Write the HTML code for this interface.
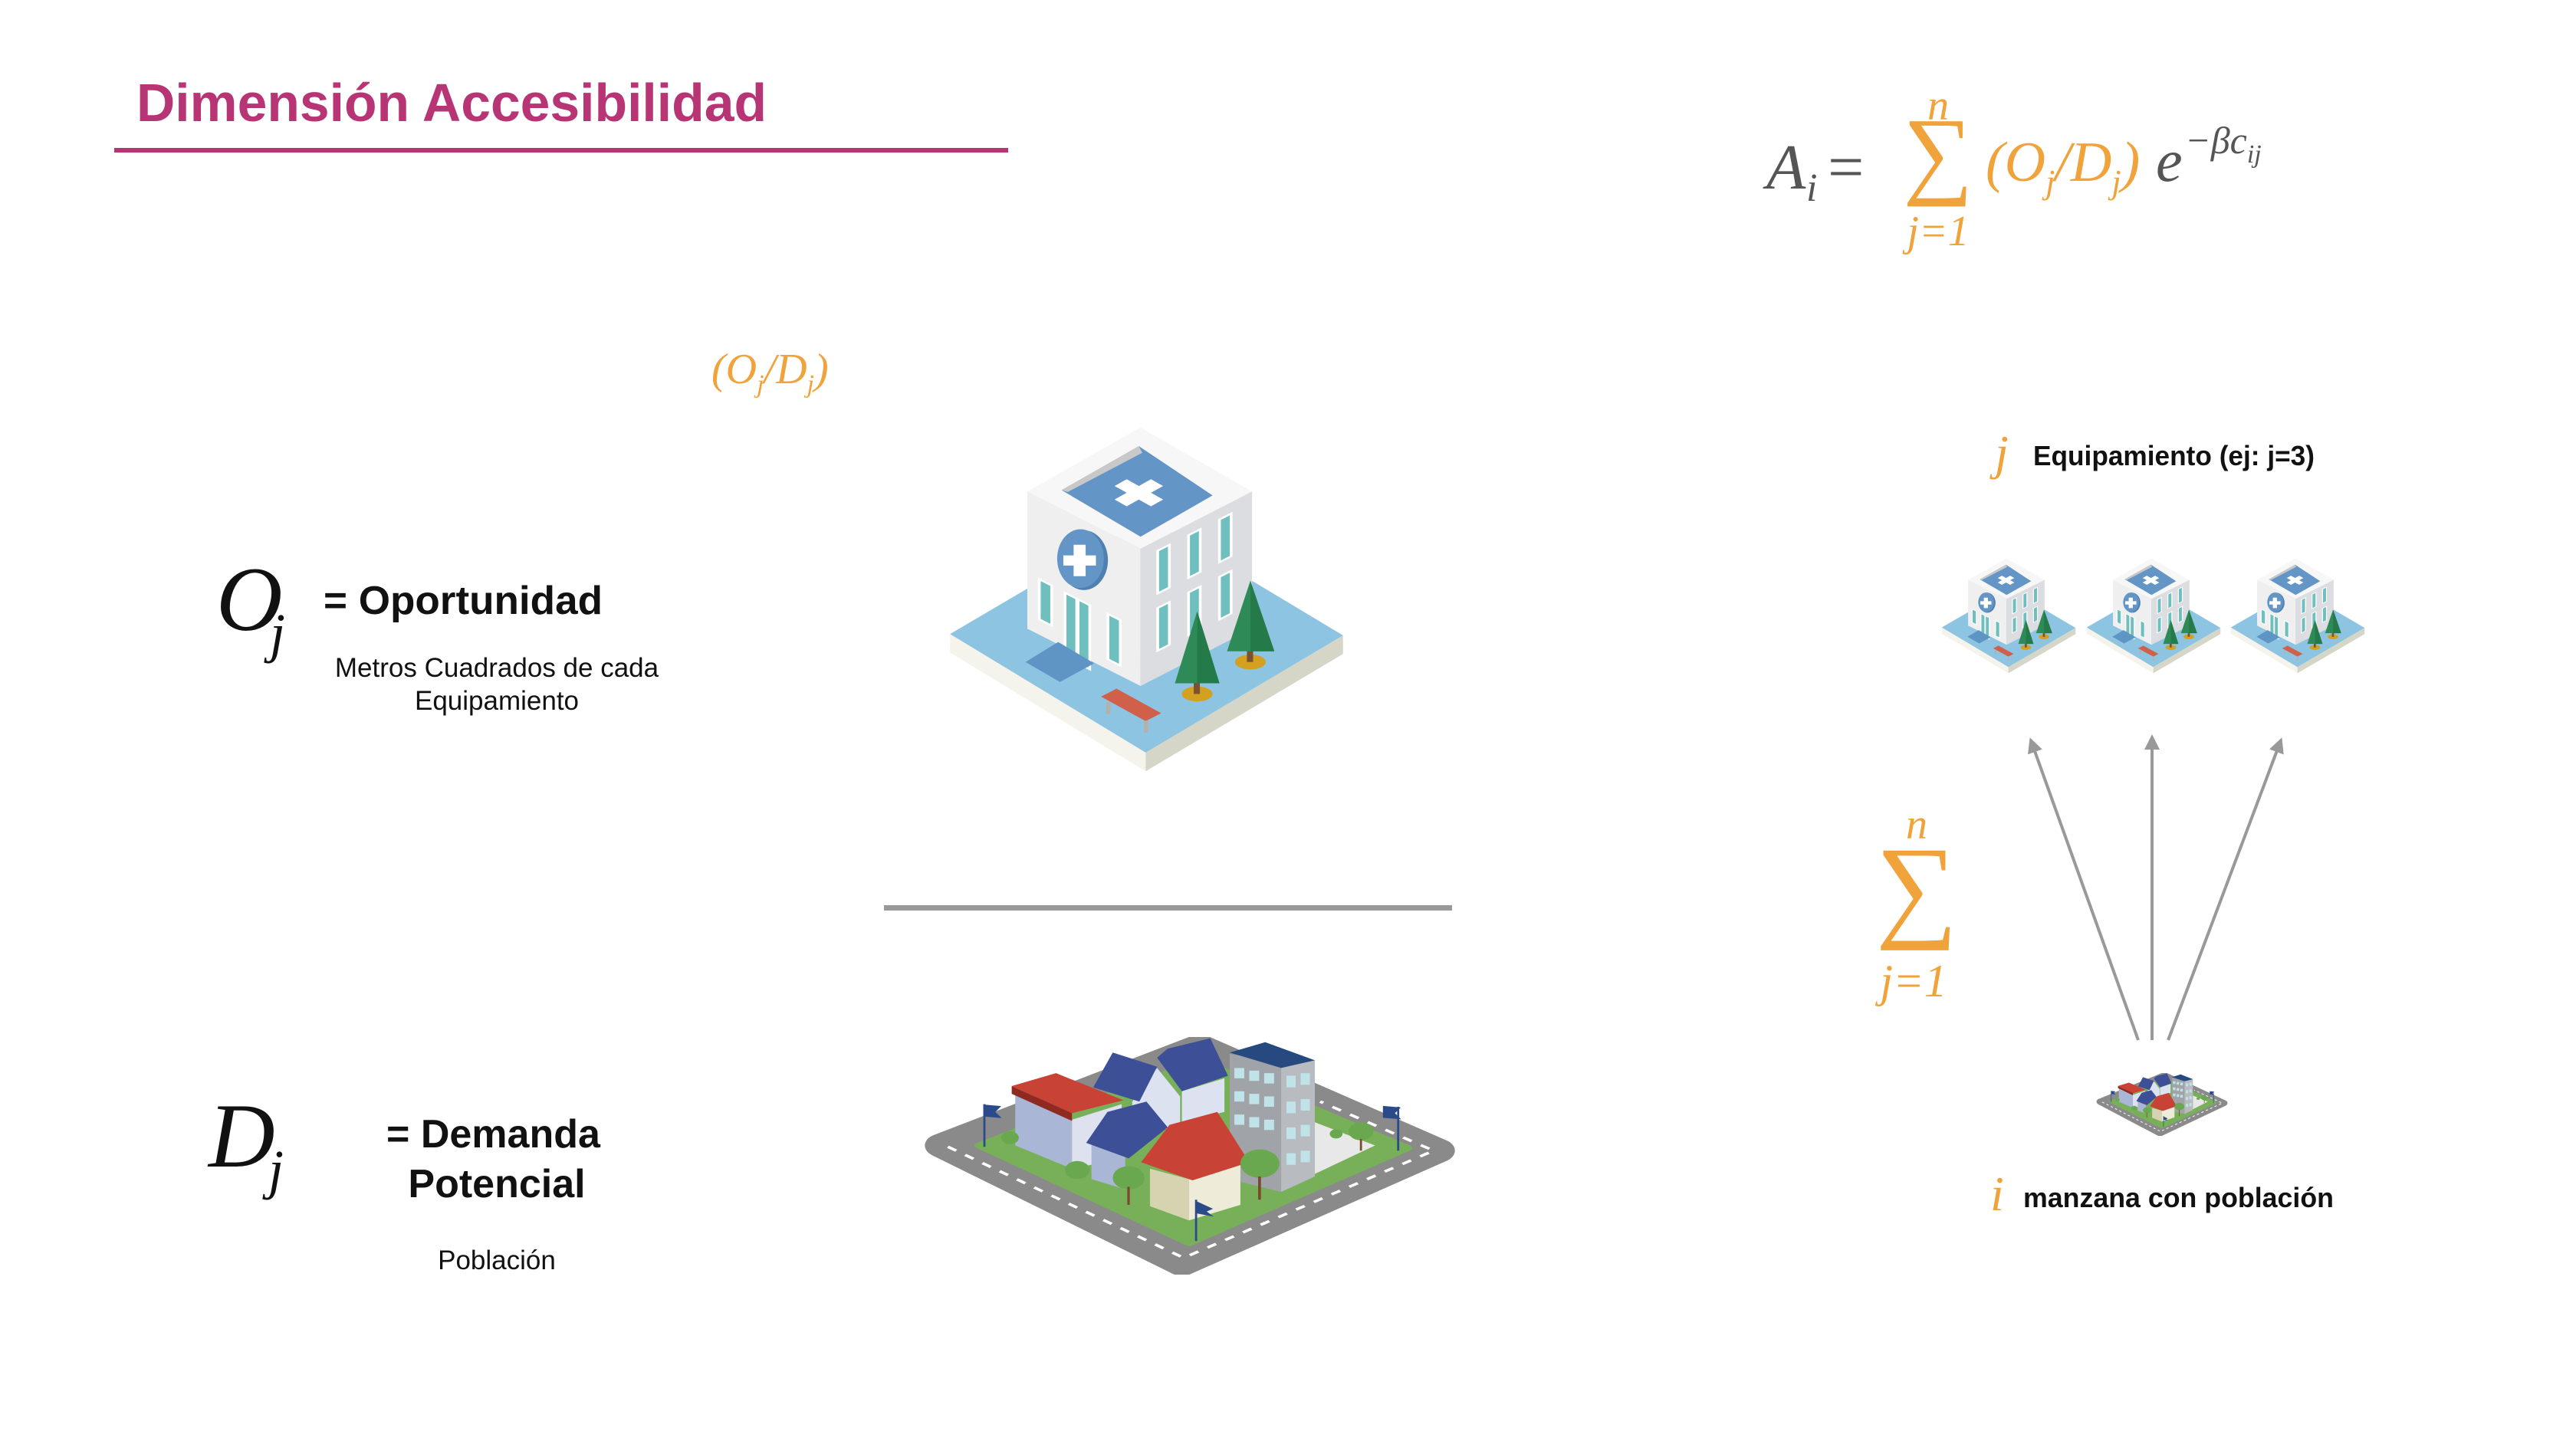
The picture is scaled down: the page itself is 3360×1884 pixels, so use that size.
<!DOCTYPE html>
<html><head><meta charset="utf-8"><style>
html,body{margin:0;padding:0;background:#fff;}
svg{display:block;}
.serif{font-family:"Liberation Serif",serif;font-style:italic;}
.sans{font-family:"Liberation Sans",sans-serif;}
</style></head>
<body>
<svg width="3360" height="1884" viewBox="0 0 3360 1884" xmlns="http://www.w3.org/2000/svg">
<defs>
<symbol id="hosp" viewBox="200 145 1155 1300" preserveAspectRatio="none">
  <polygon points="205,925 775,1370 775,1440 205,995" fill="#f4f4ec"/>
  <polygon points="775,1370 1350,930 1350,1000 775,1440" fill="#d6d6c8"/>
  <polygon points="205,925 780,490 1350,930 775,1370" fill="#8cc4e2"/>
  <polygon points="430,390 760,605 760,1120 430,905" fill="#efeff0"/>
  <polygon points="760,605 1085,390 1085,905 760,1120" fill="#dcdde0"/>
  <polygon points="760,150 1085,390 760,605 430,390" fill="#f7f7f7"/>
  <polygon points="755,220 970,405 760,560 530,385" fill="#6396c6"/>
  <polygon points="530,385 755,220 765,245 548,392" fill="#c8c8c8"/>
  <g transform="translate(755,395) scale(1,0.72) rotate(45)"><path d="M-25,-75h50v50h50v50h-50v50h-50v-50h-50v-50h50z" fill="#fff"/></g>
  <ellipse cx="595" cy="648" rx="70" ry="112" fill="#4f80b0"/>
  <ellipse cx="585" cy="642" rx="68" ry="110" fill="#6396c6"/>
  <path d="M565,590h35v40h30v38h-30v40h-35v-40h-30v-38h30z" fill="#fff"/>
  <g transform="matrix(1,0.65,0,1,0,-279.5)" fill="#6fbfbf" stroke="#fff" stroke-width="8">
    <rect x="465" y="697" width="36" height="150"/>
    <rect x="540" y="699" width="34" height="240"/><rect x="578" y="699" width="34" height="240"/>
    <rect x="665" y="697" width="36" height="170"/>
  </g>
  <g transform="matrix(1,-0.65,0,1,0,494)" fill="#6fbfbf" stroke="#fff" stroke-width="8">
    <rect x="810" y="645" width="34" height="160"/><rect x="900" y="645" width="34" height="160"/><rect x="990" y="645" width="34" height="160"/>
    <rect x="810" y="860" width="34" height="160"/><rect x="900" y="860" width="34" height="160"/><rect x="990" y="860" width="34" height="160"/>
  </g>
  <polygon points="425,1030 520,955 625,1035 525,1105" fill="#5f95c5"/>
  <ellipse cx="925" cy="1150" rx="45" ry="28" fill="#d4a020"/>
  <rect x="915" y="1090" width="18" height="60" fill="#7a5230"/>
  <polygon points="925,840 990,1110 860,1110" fill="#2e8b57"/>
  <polygon points="925,840 990,1110 925,1110" fill="#257a4a"/>
  <ellipse cx="1080" cy="1030" rx="45" ry="28" fill="#d4a020"/>
  <rect x="1070" y="970" width="18" height="60" fill="#7a5230"/>
  <polygon points="1080,725 1150,990 1012,990" fill="#2e8b57"/>
  <polygon points="1080,725 1150,990 1080,990" fill="#257a4a"/>
  <polygon points="645,1160 690,1130 820,1222 775,1252" fill="#d0604a"/>
  <rect x="660" y="1180" width="12" height="45" fill="#b8b0a8"/><rect x="770" y="1250" width="12" height="45" fill="#b8b0a8"/>
</symbol>
<symbol id="town" viewBox="10 50 1505 920" preserveAspectRatio="none">
  <polygon points="60,470 790,85 1465,490 740,930" fill="#8a8a8a" stroke="#8a8a8a" stroke-width="90" stroke-linejoin="round"/>
  <polyline points="80,475 745,905 1450,490 1130,300" fill="none" stroke="#fff" stroke-width="10" stroke-dasharray="28 30"/>
  <polygon points="165,470 790,140 1380,480 760,850" fill="#78b05a" stroke="#78b05a" stroke-width="20" stroke-linejoin="round"/>
  <polygon points="1115,380 1285,470 1115,580" fill="#e8e8e8"/>
  <polygon points="270,270 430,370 430,560 270,470" fill="#a9b6d6"/>
  <polygon points="430,370 570,310 570,520 430,560" fill="#dde2ee"/>
  <polygon points="260,240 385,190 575,295 430,345" fill="#c84236"/>
  <polygon points="260,240 430,345 430,375 260,270" fill="#8e2a22"/>
  <polygon points="600,300 670,170 735,280 735,400 600,420" fill="#dce2ef"/>
  <polygon points="490,245 545,110 670,165 620,300" fill="#3d4f96"/>
  <polygon points="740,260 860,210 860,340 740,380" fill="#dce2ef"/>
  <polygon points="670,130 700,95 820,55 870,200 740,260" fill="#3d4f96"/>
  <polygon points="485,465 540,380 580,480 580,640 485,600" fill="#a9b6d6"/>
  <polygon points="470,460 530,340 640,300 700,400 590,520" fill="#3d4f96"/>
  <polygon points="875,115 1020,150 1020,650 875,600" fill="#a0a3a8"/>
  <polygon points="1020,150 1115,140 1115,590 1020,650" fill="#b8bbbf"/>
  <polygon points="875,110 975,70 1115,140 1020,170" fill="#26497f"/>
  <g fill="#bfe3e8">
    <rect x="888" y="170" width="28" height="40"/><rect x="930" y="180" width="28" height="40"/><rect x="972" y="190" width="28" height="40"/>
    <rect x="888" y="260" width="28" height="40"/><rect x="930" y="270" width="28" height="40"/><rect x="972" y="280" width="28" height="40"/>
    <rect x="888" y="350" width="28" height="40"/><rect x="930" y="360" width="28" height="40"/><rect x="972" y="370" width="28" height="40"/>
    <rect x="1035" y="200" width="26" height="45"/><rect x="1075" y="190" width="26" height="45"/>
    <rect x="1035" y="300" width="26" height="45"/><rect x="1075" y="290" width="26" height="45"/>
    <rect x="1035" y="400" width="26" height="45"/><rect x="1075" y="390" width="26" height="45"/>
    <rect x="1035" y="500" width="26" height="45"/><rect x="1075" y="490" width="26" height="45"/>
  </g>
  <polygon points="650,560 760,600 760,760 650,705" fill="#d6d3b0"/>
  <polygon points="760,600 905,530 905,700 760,760" fill="#eeecd8"/>
  <polygon points="625,535 705,390 840,340 930,535 770,605" fill="#c84236"/>
  <g fill="#6aa84f">
    <circle cx="590" cy="595" r="45"/><circle cx="960" cy="540" r="55"/><circle cx="1245" cy="415" r="35"/>
    <circle cx="445" cy="565" r="35"/><circle cx="255" cy="440" r="25"/><circle cx="1175" cy="425" r="18"/>
  </g>
  <g fill="#7a4a2a"><rect x="586" y="630" width="7" height="70"/><rect x="955" y="590" width="8" height="90"/><rect x="1242" y="445" width="6" height="45"/></g>
  <g stroke="#2b4a8a" stroke-width="6" fill="#2b4a8a">
    <line x1="183" y1="310" x2="183" y2="475"/><polygon points="183,315 225,320 210,340 225,360 183,355"/>
    <line x1="1350" y1="320" x2="1350" y2="490"/><polygon points="1310,320 1352,325 1337,345 1352,365 1310,360"/>
    <line x1="780" y1="680" x2="780" y2="840"/><polygon points="782,690 822,715 805,725 820,740 782,730"/>
  </g>
</symbol>
<marker id="ah" viewBox="0 0 10 10" refX="8" refY="5" markerWidth="5" markerHeight="5" orient="auto"><path d="M0,0L10,5L0,10z" fill="#999"/></marker>
</defs>

<g transform="translate(-8,0)">
<text class="sans" x="186" y="158" font-size="70" font-weight="bold" fill="#b83575" textLength="822" lengthAdjust="spacingAndGlyphs">Dimensión Accesibilidad</text>
<rect x="157" y="193" width="1166" height="6" fill="#b83575"/>

<g class="serif">
  <text x="2312" y="246" font-size="84" fill="#555">A</text>
  <text x="2364" y="262" font-size="52" fill="#555">i</text>
  <text x="2392" y="246" font-size="84" fill="#555" font-style="normal">=</text>
  <text x="2536" y="156" font-size="56" fill="#f0a33a" text-anchor="middle">n</text>
  <text x="2536" y="242" font-size="128" fill="#f0a33a" text-anchor="middle" font-style="normal">∑</text>
  <text x="2536" y="320" font-size="56" fill="#f0a33a" text-anchor="middle">j=1</text>
  <text x="2598" y="236" font-size="74" fill="#f0a33a">(O<tspan font-size="44" dy="16">j</tspan><tspan dy="-16">/D</tspan><tspan font-size="44" dy="16">j</tspan><tspan dy="-16">)</tspan></text>
  <text x="2820" y="236" font-size="78" fill="#555">e</text>
  <text x="2858" y="200" font-size="50" fill="#555">−βc<tspan font-size="34" dy="12">ij</tspan></text>
</g>

<text class="serif" x="936" y="500" font-size="56" fill="#f0a33a">(O<tspan font-size="34" dy="12">j</tspan><tspan dy="-12">/D</tspan><tspan font-size="34" dy="12">j</tspan><tspan dy="-12">)</tspan></text>

<use href="#hosp" x="1245" y="556" width="517" height="452"/>

<text class="serif" x="290" y="822" font-size="120" fill="#111">O</text>
<text class="serif" x="360" y="850" font-size="72" fill="#111">j</text>
<text class="sans" x="430" y="801" font-size="52" font-weight="bold" fill="#111" textLength="364" lengthAdjust="spacingAndGlyphs">= Oportunidad</text>
<text class="sans" x="656" y="883" font-size="35" fill="#111" text-anchor="middle">Metros Cuadrados de cada</text>
<text class="sans" x="656" y="926" font-size="35" fill="#111" text-anchor="middle">Equipamiento</text>

<rect x="1161" y="1181" width="741" height="7" fill="#999"/>

<use href="#town" x="1212" y="1353" width="696" height="310"/>

<text class="serif" x="280" y="1522" font-size="120" fill="#111">D</text>
<text class="serif" x="358" y="1550" font-size="72" fill="#111">j</text>
<text class="sans" x="512" y="1497" font-size="52" font-weight="bold" fill="#111">= Demanda</text>
<text class="sans" x="656" y="1562" font-size="52" font-weight="bold" fill="#111" text-anchor="middle">Potencial</text>
<text class="sans" x="656" y="1656" font-size="35" fill="#111" text-anchor="middle">Población</text>

<text class="serif" x="2610" y="612" font-size="64" fill="#f0a33a">j</text>
<text class="sans" x="2660" y="607" font-size="36" font-weight="bold" fill="#111" textLength="367" lengthAdjust="spacingAndGlyphs">Equipamiento (ej: j=3)</text>

<use href="#hosp" x="2540" y="728" width="176" height="151"/>
<use href="#hosp" x="2729" y="728" width="176" height="151"/>
<use href="#hosp" x="2917" y="728" width="176" height="151"/>

<g stroke="#999" stroke-width="4" marker-end="url(#ah)">
  <line x1="2797" y1="1357" x2="2657" y2="966"/>
  <line x1="2815" y1="1357" x2="2815" y2="962"/>
  <line x1="2836" y1="1357" x2="2983" y2="966"/>
</g>

<g class="serif" fill="#f0a33a">
  <text x="2508" y="1094" font-size="56" text-anchor="middle">n</text>
  <text x="2508" y="1208" font-size="150" text-anchor="middle" font-style="normal">∑</text>
  <text x="2504" y="1300" font-size="60" text-anchor="middle">j=1</text>
</g>

<use href="#town" x="2742" y="1400" width="172" height="82"/>

<text class="serif" x="2604" y="1579" font-size="64" fill="#f0a33a">i</text>
<text class="sans" x="2647" y="1575" font-size="36" font-weight="bold" fill="#111" textLength="405" lengthAdjust="spacingAndGlyphs">manzana con población</text>
</g>
</svg>
</body></html>
